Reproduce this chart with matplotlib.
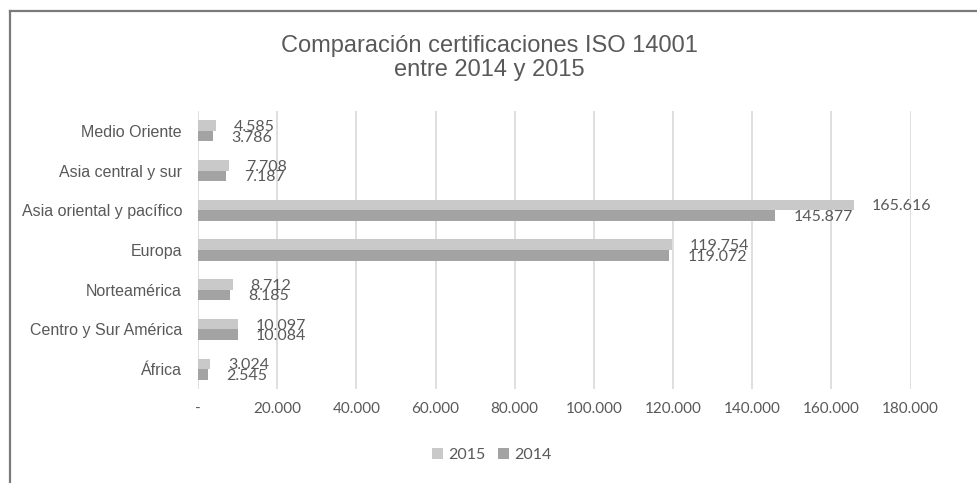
import matplotlib
matplotlib.use("Agg")
import matplotlib.pyplot as plt
from matplotlib.lines import Line2D
from matplotlib.ticker import FuncFormatter
import numpy as np

regions = ["Medio Oriente", "Asia central y sur", "Asia oriental y pacífico",
           "Europa", "Norteamérica", "Centro y Sur América", "África"]
vals_2015 = [4585, 7708, 165616, 119754, 8712, 10097, 3024]
vals_2014 = [3786, 7187, 145877, 119072, 8185, 10084, 2545]
xticks = [0, 20000, 40000, 60000, 80000, 100000, 120000, 140000, 160000, 180000]

c15 = "#c9c9c9"
c14 = "#a3a3a3"
txt = "#595959"
narrow = ["Lato", "DejaVu Sans"]


def miles(v, pos=None):
    if v == 0:
        return "-"
    return f"{int(round(v)):,}".replace(",", ".")


fig = plt.figure(figsize=(9.78, 4.83), dpi=100)
ax = fig.add_axes([0.2025, 0.1946, 0.931 - 0.2025, 0.7702 - 0.1946])

y = np.arange(len(regions))
h = 0.265
ax.barh(y - h / 2, vals_2015, height=h, color=c15, label="2015", zorder=2)
ax.barh(y + h / 2, vals_2014, height=h, color=c14, label="2014", zorder=2)

for yi, v in zip(y, vals_2015):
    ax.annotate(miles(v), (v, yi - h / 2), xytext=(13, -1), textcoords="offset points",
                va="center", ha="left", fontsize=11.5, color=txt, family=narrow)
for yi, v in zip(y, vals_2014):
    ax.annotate(miles(v), (v, yi + h / 2), xytext=(13, -1), textcoords="offset points",
                va="center", ha="left", fontsize=11.5, color=txt, family=narrow)

ax.set_ylim(len(regions) - 0.5, -0.5)
ax.set_xlim(0, 180000)
ax.set_yticks(y)
ax.set_yticklabels(regions, fontsize=11.5, color=txt, family="Liberation Sans")
ax.set_xticks(xticks)
ax.xaxis.set_major_formatter(FuncFormatter(miles))
for lab in ax.get_xticklabels():
    lab.set_family(narrow)
    lab.set_fontsize(11)
    lab.set_color(txt)
ax.tick_params(axis="both", length=0)
ax.tick_params(axis="x", pad=9.5)
ax.tick_params(axis="y", pad=11.5)
ax.grid(axis="x", color="#d9d9d9", linewidth=1.2, zorder=0)
for s in ax.spines.values():
    s.set_visible(False)

fig.text(0.5, 0.879, "Comparación certificaciones ISO 14001\nentre 2014 y 2015",
         ha="center", va="center", fontsize=17, color=txt, family="Liberation Sans",
         linespacing=1.12)

leg = fig.legend(loc="center", bbox_to_anchor=(0.503, 0.058), ncol=2, frameon=False,
                 prop={"family": narrow, "size": 11.5}, handlelength=0.7, handleheight=0.7,
                 handletextpad=0.3, columnspacing=0.8)
for t in leg.get_texts():
    t.set_color(txt)

# outer frame lines (top and left)
fig.add_artist(Line2D([9.5 / 978, 1], [1 - 10.5 / 483, 1 - 10.5 / 483],
                      transform=fig.transFigure, color="#7a7a7a", linewidth=1.6))
fig.add_artist(Line2D([9.5 / 978, 9.5 / 978], [0, 1 - 10.5 / 483],
                      transform=fig.transFigure, color="#7a7a7a", linewidth=1.6))

fig.savefig("out.png", dpi=100, facecolor="white")
